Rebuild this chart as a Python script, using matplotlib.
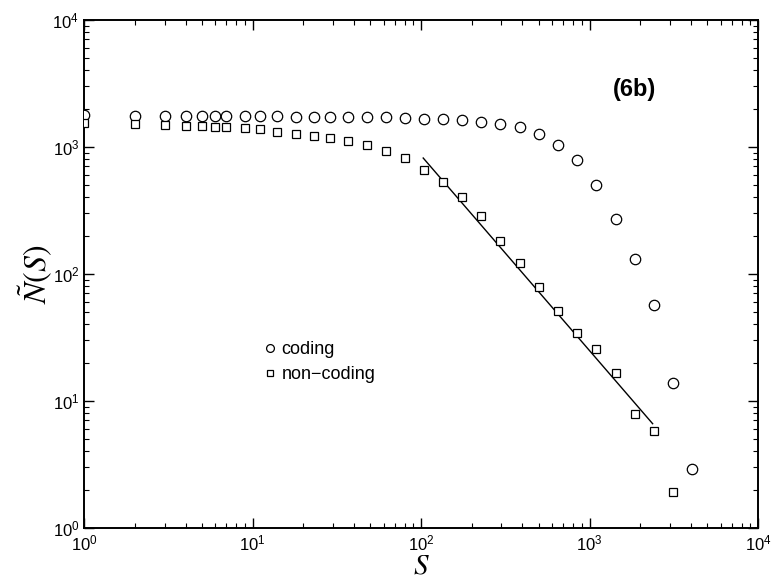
import matplotlib
matplotlib.use("Agg")
import matplotlib.pyplot as plt
from matplotlib.ticker import LogLocator, NullFormatter

plt.rcParams["font.family"] = ["Liberation Sans", "DejaVu Sans"]
plt.rcParams["mathtext.fontset"] = "stix"

# cluster size S (shared by both series)
S = [1, 2, 3, 4, 5, 6, 7, 9, 11, 14, 18, 23, 29, 37, 48, 62, 80, 104, 135,
     175, 228, 296, 385, 500, 650, 845, 1100, 1430, 1860, 2420, 3140, 4080]

coding = [1780, 1760, 1750, 1750, 1750, 1750, 1750, 1740, 1740, 1740, 1730,
          1730, 1720, 1720, 1710, 1700, 1680, 1660, 1640, 1620, 1580, 1520,
          1420, 1250, 1030, 780, 500, 268, 131, 56.5, 13.8, 2.9]

S_nc = S[:-1]
noncoding = [1530, 1500, 1470, 1460, 1450, 1440, 1430, 1410, 1370, 1300,
             1260, 1220, 1170, 1115, 1040, 930, 815, 657, 523, 402, 283, 180,
             121, 78, 50.5, 34.1, 25.5, 16.5, 7.8, 5.8, 1.93]

# power-law fit drawn over the non-coding tail
fit_S = [103, 2370]
fit_N = [815, 6.6]

fig = plt.figure(figsize=(7.79, 5.80), dpi=100)
ax = fig.add_axes([0.108, 0.09, 0.865, 0.876])

ax.plot(S, coding, "o", ms=7.5, mfc="white", mec="black", mew=0.9,
        label="coding", zorder=3)
ax.plot(S_nc, noncoding, "s", ms=6, mfc="white", mec="black", mew=0.9,
        label="non\u2212coding", zorder=3)
ax.plot(fit_S, fit_N, "-", color="black", lw=1.0, zorder=2)

ax.set_xscale("log")
ax.set_yscale("log")
ax.set_xlim(1, 1e4)
ax.set_ylim(1, 1e4)

for axis in (ax.xaxis, ax.yaxis):
    axis.set_major_locator(LogLocator(base=10, numticks=10))
    axis.set_minor_locator(LogLocator(base=10, subs=range(2, 10), numticks=10))
    axis.set_minor_formatter(NullFormatter())
ax.tick_params(which="both", direction="in", top=True, right=True,
               labelsize=12)
ax.tick_params(which="major", length=7, width=1.0)
ax.tick_params(which="minor", length=3.5, width=0.8)
ax.tick_params(axis="x", pad=4)
for sp in ax.spines.values():
    sp.set_linewidth(1.4)

ax.set_xlabel(r"$S$", fontsize=21, labelpad=-1)
ax.set_ylabel(r"$\tilde{N}(S)$", fontsize=23, labelpad=-2)

ax.text(0.785, 0.862, "(6b)", transform=ax.transAxes, fontsize=17,
        fontweight="bold", va="center")

ax.legend(loc="upper left", bbox_to_anchor=(0.249, 0.385), frameon=False,
          fontsize=13, handletextpad=0.15, labelspacing=0.45, borderpad=0,
          handlelength=1.0, markerscale=0.75)

fig.savefig("out.png", dpi=100)
